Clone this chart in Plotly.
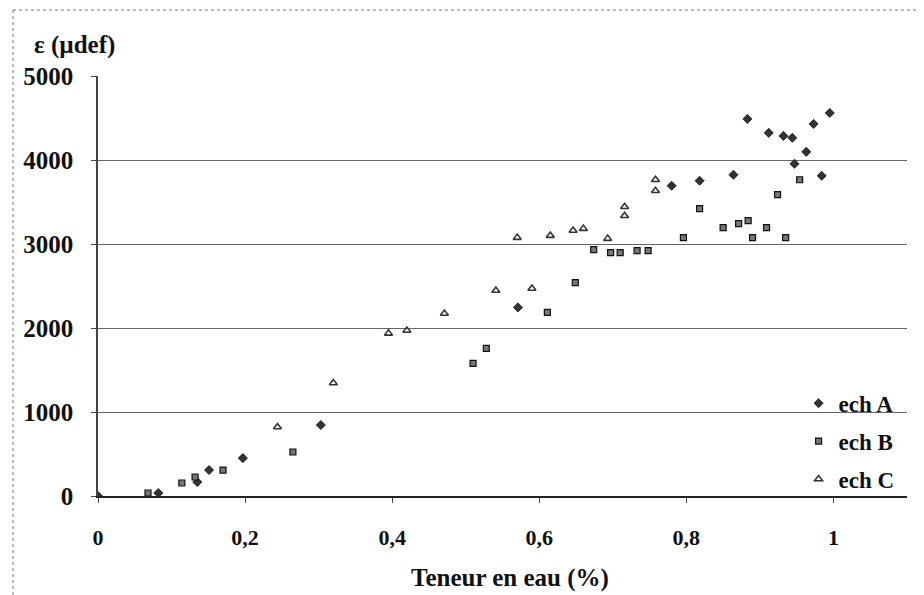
import plotly.graph_objects as go

# Series A (diamonds)
a_x = [0.0, 0.082, 0.135, 0.151, 0.197, 0.303, 0.571, 0.780, 0.818, 0.864, 0.883, 0.912,
       0.932, 0.944, 0.947, 0.963, 0.973, 0.995, 0.984]
a_y = [0, 36, 166, 309, 451, 845, 2245, 3694, 3753, 3824, 4489, 4323,
       4287, 4264, 3955, 4097, 4430, 4560, 3812]

# Series B (squares)
b_x = [0.068, 0.114, 0.132, 0.170, 0.265, 0.510, 0.528, 0.611, 0.649, 0.674, 0.697, 0.710,
       0.733, 0.748, 0.796, 0.818, 0.850, 0.871, 0.884, 0.890, 0.909, 0.924, 0.935, 0.954]
b_y = [36, 155, 226, 309, 524, 1579, 1757, 2185, 2541, 2933, 2898, 2898,
       2921, 2921, 3076, 3420, 3195, 3242, 3278, 3076, 3195, 3587, 3076, 3765]

# Series C (triangles)
c_x = [0.244, 0.320, 0.395, 0.420, 0.471, 0.541, 0.590, 0.570, 0.615, 0.646, 0.660, 0.693,
       0.716, 0.716, 0.758, 0.758]
c_y = [821, 1345, 1936, 1971, 2173, 2446, 2470, 3076, 3100, 3160, 3183, 3064,
       3444, 3337, 3634, 3765]

x_ticks = [0, 0.2, 0.4, 0.6, 0.8, 1]
x_labels = ["0", "0,2", "0,4", "0,6", "0,8", "1"]
y_ticks = [0, 1000, 2000, 3000, 4000, 5000]
y_labels = ["0", "1000", "2000", "3000", "4000", "5000"]

FONT = "Liberation Serif"

# The page body has an 8px margin; the figure is sized to fit inside 924x595.
W, H = 916, 587
L, R, T, B = 90, 17, 68, 99
PW, PH = W - L - R, H - T - B

fig = go.Figure()
fig.add_trace(go.Scatter(
    x=a_x, y=a_y, mode="markers", name="ech A", legendgroup="A",
    marker=dict(symbol="diamond", size=7, color="#333", line=dict(color="#111", width=0.8)),
))
fig.add_trace(go.Scatter(
    x=b_x, y=b_y, mode="markers", name="ech B", legendgroup="B",
    marker=dict(symbol="square", size=6, color="#777", line=dict(color="#111", width=1.2)),
))
fig.add_trace(go.Scatter(
    x=c_x, y=c_y, mode="markers", name="ech C", legendgroup="C",
    marker=dict(symbol="triangle-up-open", size=7, color="#333", line=dict(color="#333", width=1.6)),
))

fig.update_layout(
    width=W, height=H,
    margin=dict(l=L, r=R, t=T, b=B),
    paper_bgcolor="white", plot_bgcolor="white",
    font=dict(family=FONT, color="#111", size=20),
    showlegend=True,
    legend=dict(
        x=0.866, xanchor="left", y=0.272, yanchor="top",
        bgcolor="rgba(0,0,0,0)", font=dict(family=FONT, size=23, color="#111", weight="bold"),
        tracegroupgap=5, itemwidth=30,
    ),
    xaxis=dict(
        range=[0, 1.1], tickvals=x_ticks, ticktext=x_labels,
        showgrid=False, zeroline=False,
        showline=True, linecolor="#222", linewidth=1.5,
        ticks="outside", ticklen=5, tickcolor="#444",
        ticklabelstandoff=16,
        tickfont=dict(family=FONT, size=22, weight="bold"),
    ),
    yaxis=dict(
        range=[0, 5000], tickvals=y_ticks, ticktext=y_labels,
        showgrid=True, gridcolor="#666", gridwidth=1,
        zeroline=False,
        showline=True, linecolor="#444", linewidth=1.5,
        ticks="outside", ticklen=5, tickcolor="#444",
        ticklabelstandoff=13,
        tickfont=dict(family=FONT, size=25, weight="bold"),
    ),
)

fig.add_annotation(
    text="Teneur en eau (%)", xref="paper", yref="paper",
    x=(510 - 8 - L) / PW, y=-(578 - 8 - (T + PH)) / PH, xanchor="center", yanchor="middle",
    showarrow=False, font=dict(family=FONT, size=25, weight="bold", color="#111"),
)
fig.add_annotation(
    text="ε (µdef)", xref="paper", yref="paper",
    x=(32 - 8 - L) / PW, y=((T + PH) - (45 - 8)) / PH, xanchor="left", yanchor="middle",
    showarrow=False, font=dict(family=FONT, size=25, weight="bold", color="#111"),
)
# dotted outer frame (top and left edges visible in the scan)
fx0 = (13 - 8 - L) / PW
fy1 = ((T + PH) - (10 - 8)) / PH
fig.add_shape(type="line", xref="paper", yref="paper", x0=fx0, x1=(W - L) / PW, y0=fy1, y1=fy1,
              line=dict(color="#777", width=1, dash="dot"))
fig.add_shape(type="line", xref="paper", yref="paper", x0=fx0, x1=fx0, y0=fy1, y1=-(H - T - PH) / PH,
              line=dict(color="#777", width=1, dash="dot"))

fig.write_html("out.html")
